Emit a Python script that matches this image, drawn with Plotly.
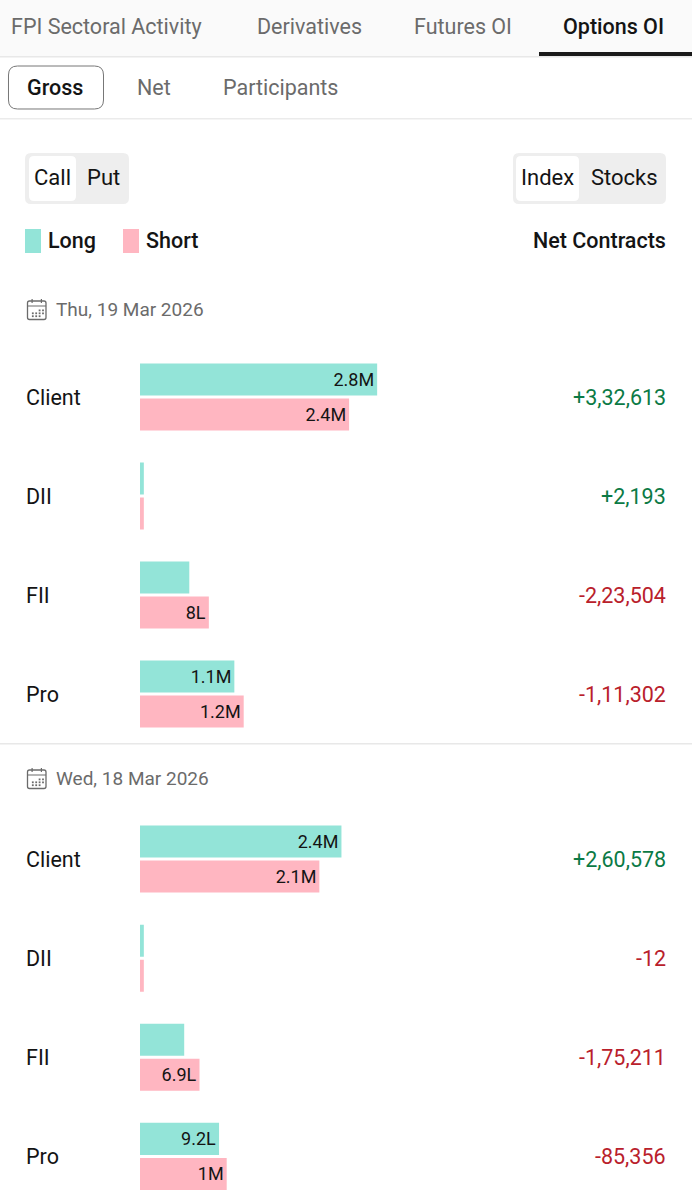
import plotly.graph_objects as go

W, H = 692, 1200

# values in millions of contracts
participants = ["Client", "DII", "FII", "Pro"]
day1_date = "Thu, 19 Mar 2026"
day1_long = [2.79, 0.045, 0.58, 1.11]
day1_short = [2.46, 0.045, 0.81, 1.22]
day1_long_text = ["2.8M", "", "", "1.1M"]
day1_short_text = ["2.4M", "", "8L", "1.2M"]
day1_net = ["+3,32,613", "+2,193", "-2,23,504", "-1,11,302"]

day2_date = "Wed, 18 Mar 2026"
day2_long = [2.37, 0.045, 0.52, 0.93]
day2_short = [2.11, 0.045, 0.70, 1.02]
day2_long_text = ["2.4M", "", "", "9.2L"]
day2_short_text = ["2.1M", "", "6.9L", "1M"]
day2_net = ["+2,60,578", "-12", "-1,75,211", "-85,356"]

top_tabs = ["FPI Sectoral Activity", "Derivatives", "Futures OI", "Options OI"]
sub_tabs = ["Gross", "Net", "Participants"]

LONG = "#93E4D8"
SHORT = "#FFB6C1"
INK = "#141414"
GREY = "#6b6b6b"
GREEN = "#0b7a45"
RED = "#b9202b"
FONT = "Roboto"


def px(x):
    return x / W


def py(y):
    return 1 - y / H


def label(x, y, text, size=21, color=INK, anchor="left", weight=400):
    return dict(x=px(x), y=py(y), xref="paper", yref="paper", text=text, showarrow=False,
                xanchor=anchor, yanchor="middle", borderpad=0, borderwidth=0,
                font=dict(family=FONT, size=size, color=color, weight=weight))


def box(x0, y0, x1, y1, fill=None, line=None, lw=1):
    return dict(type="rect", xref="paper", yref="paper", x0=px(x0), x1=px(x1), y0=py(y0), y1=py(y1),
                fillcolor=fill or "rgba(0,0,0,0)", line=dict(color=line or "rgba(0,0,0,0)", width=lw if line else 0),
                layer="below")


def rounded(x0, y0, x1, y1, r, fill=None, line=None, lw=1):
    def p(x, y):
        return f"{px(x):.5f},{py(y):.5f}"
    path = (f"M{p(x0 + r, y0)} L{p(x1 - r, y0)} Q{p(x1, y0)} {p(x1, y0 + r)} "
            f"L{p(x1, y1 - r)} Q{p(x1, y1)} {p(x1 - r, y1)} "
            f"L{p(x0 + r, y1)} Q{p(x0, y1)} {p(x0, y1 - r)} "
            f"L{p(x0, y0 + r)} Q{p(x0, y0)} {p(x0 + r, y0)} Z")
    return dict(type="path", xref="paper", yref="paper", path=path,
                fillcolor=fill or "rgba(0,0,0,0)", line=dict(color=line or "rgba(0,0,0,0)", width=lw if line else 0),
                layer="below")


def calendar(yc):
    out = [rounded(27.5, yc - 8, 46, yc + 10.5, 2, line=GREY, lw=1.3),
           box(27.5, yc - 3.5, 46, yc - 2.5, fill=GREY),
           box(31.5, yc - 10, 32.7, yc - 6, fill=GREY),
           box(40.8, yc - 10, 42, yc - 6, fill=GREY)]
    for row, cols in enumerate([(3, 4), (1, 2, 3, 4), (1, 2, 3)]):
        for c in cols:
            cx = 28.5 + c * 3.4
            cy = yc + 0.5 + row * 2.9
            out.append(box(cx, cy, cx + 1.8, cy + 1.8, fill=GREY))
    return out


fig = go.Figure()

days = [
    (day1_long, day1_short, day1_long_text, day1_short_text, "x", "y"),
    (day2_long, day2_short, day2_long_text, day2_short_text, "x2", "y2"),
]
for long_vals, short_vals, long_text, short_text, xa, ya in days:
    for name, vals, txt, color in [("Long", long_vals, long_text, LONG), ("Short", short_vals, short_text, SHORT)]:
        fig.add_trace(go.Bar(
            name=name, x=vals, y=participants, orientation="h", xaxis=xa, yaxis=ya,
            marker=dict(color=color, line=dict(width=0)), text=txt,
            textposition="inside", insidetextanchor="end", constraintext="none", textangle=0,
            textfont=dict(family=FONT, size=18, color=INK), showlegend=False,
        ))

annotations = []
tab_x = [11, 257, 414, 563]
for i, (t, x) in enumerate(zip(top_tabs, tab_x)):
    annotations.append(label(x, 27, t, size=21.5, color=INK if i == 3 else GREY, weight=500 if i == 3 else 400))
for i, (t, x) in enumerate(zip(sub_tabs, [27, 137, 223])):
    annotations.append(label(x, 87, t, size=21.5, color=INK if i == 0 else GREY, weight=500 if i == 0 else 400))
annotations += [
    label(34, 178, "Call", size=22), label(87, 178, "Put", size=22),
    label(521, 178, "Index", size=22), label(590.5, 178, "Stocks", size=22),
    label(48, 241, "Long", size=21.5, weight=500), label(146, 241, "Short", size=21.5, weight=500),
    label(666, 241, "Net Contracts", size=21.5, anchor="right", weight=500),
    label(56, 309, day1_date, size=19, color=GREY),
    label(56, 778, day2_date, size=19, color=GREY),
]
for y0, net in [(397, day1_net), (859, day2_net)]:
    for i, (p, n) in enumerate(zip(participants, net)):
        y = y0 + i * 99
        annotations.append(label(26, y, p, size=21.5))
        annotations.append(label(666, y, n, size=21.5, anchor="right", color=GREEN if n.startswith("+") else RED))

shapes = [
    box(0, 0, W, 56, fill="#fafafa"),
    box(0, 56, W, 57.5, fill="#e8e8e8"),
    box(539, 52, W, 56, fill="#1a1a1a"),
    rounded(8.5, 66, 103.5, 109, 9, fill="#ffffff", line="#777777", lw=1),
    box(0, 118, W, 119.5, fill="#ebebeb"),
    rounded(25, 153, 129, 204, 6, fill="#eeeeee"),
    rounded(29, 156, 76, 201, 5, fill="#ffffff"),
    rounded(513, 153, 666, 204, 6, fill="#eeeeee"),
    rounded(516, 156, 579, 201, 5, fill="#ffffff"),
    box(25, 229, 41, 253, fill=LONG),
    box(123, 229, 139, 253, fill=SHORT),
    box(0, 743, W, 744.5, fill="#e8e8e8"),
] + calendar(309) + calendar(778)

x_axis = dict(visible=False, domain=[px(140), 1], range=[0, 552 / 85], fixedrange=True)
fig.update_layout(
    width=W, height=H, margin=dict(l=0, r=0, t=0, b=0), autosize=False,
    paper_bgcolor="#ffffff", plot_bgcolor="rgba(0,0,0,0)",
    barmode="group", bargap=0.293, bargroupgap=0.086,
    xaxis=x_axis, xaxis2=dict(x_axis, anchor="y2"),
    yaxis=dict(visible=False, domain=[py(743.5), py(347.5)], range=[3.5, -0.5], anchor="x",
               type="category", categoryorder="array", categoryarray=participants),
    yaxis2=dict(visible=False, domain=[py(1200), py(809.5)], range=[3.44, -0.5], anchor="x2",
                type="category", categoryorder="array", categoryarray=participants),
    annotations=annotations, shapes=shapes, showlegend=False,
    font=dict(family=FONT),
)

fig.write_html("out.html", config=dict(displayModeBar=False),
               post_script="document.body.style.margin='0';")
